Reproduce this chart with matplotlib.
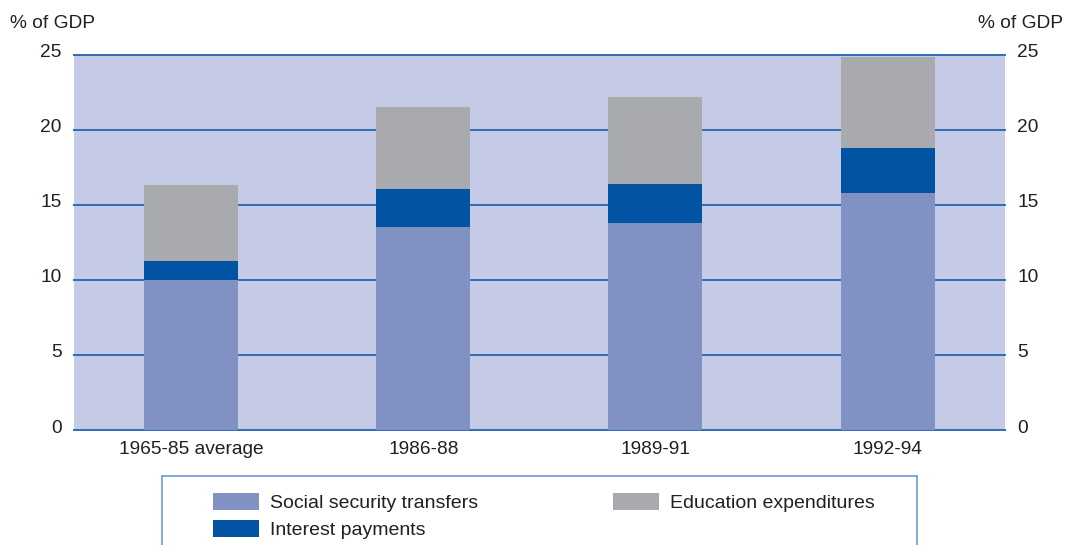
import matplotlib
matplotlib.use("Agg")
import matplotlib.pyplot as plt
from matplotlib.patches import Rectangle
import matplotlib.transforms as mtrans
import numpy as np

plt.rcParams['font.family'] = ['Liberation Sans', 'DejaVu Sans']

periods = ["1965-85 average", "1986-88", "1989-91", "1992-94"]
social = [10.0, 13.5, 13.8, 15.8]
interest = [1.27, 2.55, 2.6, 2.95]
education = [5.07, 5.45, 5.75, 6.1]

c_social = "#8191c4"
c_interest = "#0353a4"
c_educ = "#a9aaae"
c_bg = "#c5cae6"
c_grid = "#2e6db4"
c_text = "#231f20"
fs = 13.8

fig = plt.figure(figsize=(10.69, 5.45), dpi=100)
ax = fig.add_axes([0.0692, 0.211, 0.8708, 0.689])
ax.set_facecolor(c_bg)

x = np.arange(len(periods))
w = 0.405
b1 = ax.bar(x, social, w, color=c_social, label="Social security transfers", zorder=3)
b2 = ax.bar(x, interest, w, bottom=social, color=c_interest, label="Interest payments", zorder=3)
bottom2 = np.array(social) + np.array(interest)
b3 = ax.bar(x, education, w, bottom=bottom2, color=c_educ, label="Education expenditures", zorder=3)

ax.set_xlim(-0.505, 3.505)
ax.set_ylim(0, 25)
yt = [0, 5, 10, 15, 20, 25]
ax.set_yticks(yt)
for v in yt:
    ax.axhline(v, color=c_grid, lw=1.4, zorder=1, clip_on=False)
for s in ax.spines.values():
    s.set_visible(False)

ax.set_xticks(x)
ax.set_xticklabels(periods)
ax.tick_params(axis='both', length=0, labelsize=fs, colors=c_text)
ax.tick_params(axis='x', pad=8)
ax.tick_params(axis='y', pad=9, labelright=True)
# y labels sit just above their gridline
shift = mtrans.ScaledTranslation(0, -2.5 / 100, fig.dpi_scale_trans)
for t in ax.yaxis.get_major_ticks():
    for lab in (t.label1, t.label2):
        lab.set_va('baseline')
        lab.set_transform(lab.get_transform() + shift)

fig.text(10 / 1069, 1 - 23 / 545, "% of GDP", fontsize=fs, color=c_text, ha="left", va="center")
fig.text(1063 / 1069, 1 - 23 / 545, "% of GDP", fontsize=fs, color=c_text, ha="right", va="center")

# legend box, runs off the bottom edge
fig.patches.append(Rectangle((162 / 1069, -0.05), (917 - 162) / 1069, 0.05 + (545 - 476) / 545,
                             transform=fig.transFigure, facecolor="white",
                             edgecolor="#6b9bd1", lw=1.2, zorder=0))
kw = dict(loc="upper left", frameon=False, fontsize=14, handlelength=2.37, handleheight=1.0,
          handletextpad=0.55, labelspacing=0.38, borderpad=0, borderaxespad=0,
          labelcolor=c_text)
leg1 = fig.legend([b1, b2], ["Social security transfers", "Interest payments"],
                  bbox_to_anchor=(213 / 1069, 1 - 493 / 545), **kw)
leg2 = fig.legend([b3], ["Education expenditures"],
                  bbox_to_anchor=(613 / 1069, 1 - 493 / 545), **kw)

fig.savefig("out.png", dpi=100)
